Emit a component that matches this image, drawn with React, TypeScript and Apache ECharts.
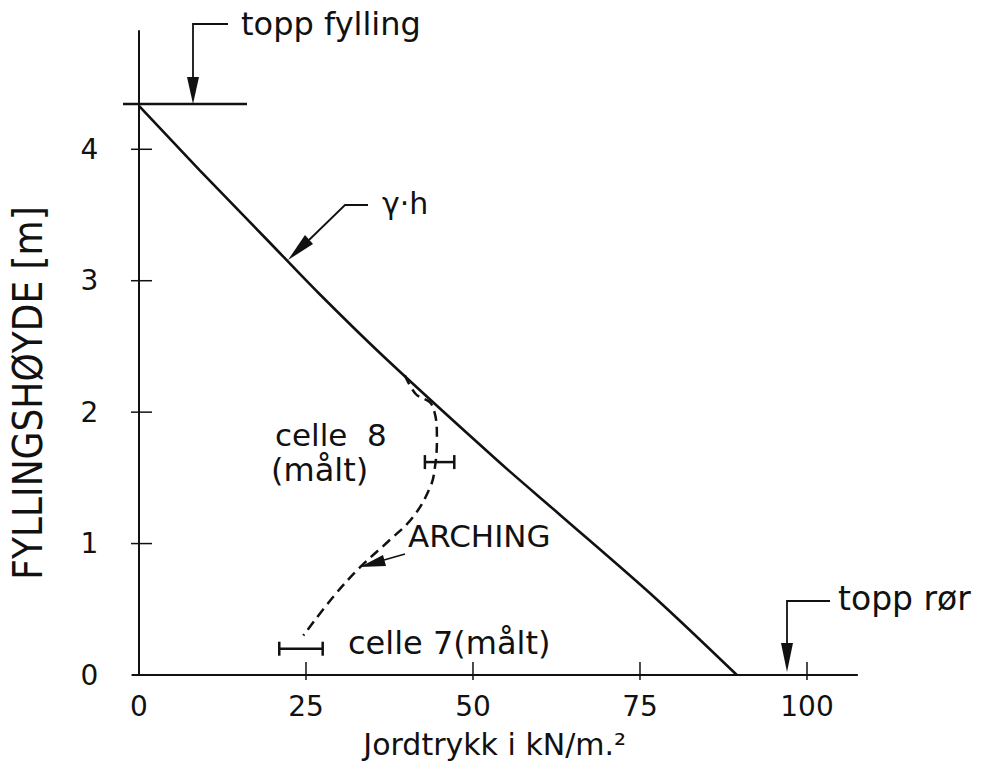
import React, { useEffect, useRef } from "react";
import * as echarts from "echarts";

const xTicks = [0, 25, 50, 75, 100];
const yTicks = [0, 1, 2, 3, 4];

// gamma * h line (theoretical earth pressure)
const gammaH: [number, number][] = [
  [0, 4.33], [9.1, 3.84], [19.2, 3.31], [26.8, 2.91], [37.1, 2.4],
  [53.7, 1.63], [63.0, 1.22], [77.2, 0.59], [89.5, 0],
];

// arching curve (dashed)
const arching: [number, number][] = [
  [39.8, 2.28], [41.4, 2.14], [43.9, 2.05], [44.6, 1.79], [44.3, 1.58],
  [43.6, 1.43], [41.0, 1.2], [37.6, 1.03], [33.1, 0.82], [29.0, 0.59], [24.6, 0.3],
];

// measured cells: [xLow, xHigh, height]
const cells: [number, number, number][] = [
  [42.8, 47.2, 1.62],
  [21.0, 27.5, 0.2],
];

const INK = "#111";
const FONT = "'DejaVu Sans', sans-serif";

export default function App() {
  const ref = useRef<HTMLDivElement>(null);
  useEffect(() => {
    if (!ref.current) return;
    const chart = echarts.init(ref.current, undefined, { renderer: "svg" });
    const lineStyle = { stroke: INK, lineWidth: 2.5 };
    chart.setOption({
      animation: false,
      backgroundColor: "#fff",
      grid: {
        left: 132.3,
        top: 31,
        width: 724.8,
        height: 644,
        containLabel: false,
        outerBoundsMode: "none",
      },
      xAxis: {
        type: "value",
        min: -1,
        max: 107.5,
        splitLine: { show: false },
        axisTick: { show: false },
        axisLine: { lineStyle: { color: INK, width: 2 } },
        axisLabel: {
          customValues: xTicks,
          color: INK,
          fontFamily: FONT,
          fontSize: 28,
          margin: 17,
        },
        name: "Jordtrykk i kN/m.²",
        nameLocation: "middle",
        nameGap: 54,
        nameTextStyle: { color: INK, fontFamily: FONT, fontSize: 30 },
      },
      yAxis: {
        type: "value",
        min: 0,
        max: 4.9,
        splitLine: { show: false },
        axisTick: { show: false },
        axisLine: { onZero: true, lineStyle: { color: INK, width: 2 } },
        axisLabel: {
          customValues: yTicks,
          color: INK,
          fontFamily: FONT,
          fontSize: 28,
          margin: 34,
        },
        name: "FYLLINGSHØYDE [m]",
        nameLocation: "middle",
        nameRotate: 90,
        nameGap: 84,
        nameTextStyle: {
          color: INK,
          fontFamily: "'DejaVu Sans Condensed', 'DejaVu Sans'",
          fontSize: 40,
          padding: [0, 80, 0, 0],
        },
      },
      series: [
        {
          type: "custom",
          name: "xticks",
          clip: false,
          silent: true,
          data: xTicks.filter((v) => v !== 0).map((v) => [v, 0]),
          encode: { x: 0, y: 1 },
          renderItem: (_p: any, api: any) => {
            const c = api.coord([api.value(0), api.value(1)]);
            return {
              type: "line",
              shape: { x1: c[0], y1: c[1] - 13, x2: c[0], y2: c[1] + 5 },
              style: { stroke: INK, lineWidth: 1.5 },
            };
          },
        },
        {
          type: "custom",
          name: "yticks",
          clip: false,
          silent: true,
          data: yTicks.filter((v) => v !== 0).map((v) => [0, v]),
          encode: { x: 0, y: 1 },
          renderItem: (_p: any, api: any) => {
            const c = api.coord([api.value(0), api.value(1)]);
            return {
              type: "line",
              shape: { x1: c[0] - 8, y1: c[1], x2: c[0] + 13, y2: c[1] },
              style: { stroke: INK, lineWidth: 1.5 },
            };
          },
        },
        {
          type: "line",
          name: "γ·h",
          data: gammaH,
          smooth: 0.3,
          showSymbol: false,
          symbol: "none",
          lineStyle: { color: INK, width: 2.6 },
          z: 5,
        },
        {
          type: "line",
          name: "ARCHING",
          data: arching,
          smooth: 0.4,
          showSymbol: false,
          symbol: "none",
          lineStyle: { color: INK, width: 2.5, type: [10, 6] },
          z: 5,
        },
        {
          type: "custom",
          name: "celler",
          clip: false,
          data: cells,
          encode: { x: [0, 1], y: 2 },
          renderItem: (_p: any, api: any) => {
            const lo = api.coord([api.value(0), api.value(2)]);
            const hi = api.coord([api.value(1), api.value(2)]);
            const h = 7;
            return {
              type: "group",
              children: [
                { type: "line", shape: { x1: lo[0], y1: lo[1], x2: hi[0], y2: hi[1] }, style: lineStyle },
                { type: "line", shape: { x1: lo[0], y1: lo[1] - h, x2: lo[0], y2: lo[1] + h }, style: lineStyle },
                { type: "line", shape: { x1: hi[0], y1: hi[1] - h, x2: hi[0], y2: hi[1] + h }, style: lineStyle },
              ],
            };
          },
        },
      ],
      graphic: [
        // top of fill line
        { type: "line", shape: { x1: 123, y1: 104, x2: 247, y2: 104 }, style: { stroke: INK, lineWidth: 2.5 } },
        // topp fylling
        { type: "polyline", shape: { points: [[228, 24], [193, 24], [193, 80]] }, style: { stroke: INK, lineWidth: 1.8, fill: "none" } },
        { type: "polygon", shape: { points: [[187, 77], [199, 77], [193, 104]] }, style: { fill: INK } },
        { type: "text", x: 241, y: 24, style: { text: "topp fylling", font: `32px ${FONT}`, fill: INK, verticalAlign: "middle" } },
        // gamma h
        { type: "polyline", shape: { points: [[368, 205], [345, 205], [309, 240]] }, style: { stroke: INK, lineWidth: 1.8, fill: "none" } },
        { type: "polygon", shape: { points: [[313, 244], [305, 235], [288, 260]] }, style: { fill: INK } },
        { type: "text", x: 382, y: 203, style: { text: "γ·h", font: `30px ${FONT}`, fill: INK, verticalAlign: "middle" } },
        // arching
        { type: "line", shape: { x1: 405, y1: 554, x2: 384, y2: 560 }, style: { stroke: INK, lineWidth: 1.8 } },
        { type: "polygon", shape: { points: [[386, 566], [383, 555], [360, 567]] }, style: { fill: INK } },
        { type: "text", x: 408, y: 536, style: { text: "ARCHING", font: `31px ${FONT}`, fill: INK, verticalAlign: "middle" } },
        // cells
        { type: "text", x: 275, y: 435, style: { text: "celle  8", font: `31px ${FONT}`, fill: INK, verticalAlign: "middle" } },
        { type: "text", x: 271, y: 470, style: { text: "(målt)", font: `32px ${FONT}`, fill: INK, verticalAlign: "middle" } },
        { type: "text", x: 348, y: 643, style: { text: "celle 7(målt)", font: `32px ${FONT}`, fill: INK, verticalAlign: "middle" } },
        // topp rør
        { type: "polyline", shape: { points: [[830, 601], [787, 601], [787, 645]] }, style: { stroke: INK, lineWidth: 1.8, fill: "none" } },
        { type: "polygon", shape: { points: [[781, 643], [793, 643], [787, 672]] }, style: { fill: INK } },
        { type: "text", x: 838, y: 598, style: { text: "topp rør", font: `33px ${FONT}`, fill: INK, verticalAlign: "middle" } },
      ],
    });
    return () => chart.dispose();
  }, []);
  return (
    <div
      ref={ref}
      style={{ position: "fixed", left: 0, top: 0, width: 982, height: 774, background: "#fff" }}
    />
  );
}
